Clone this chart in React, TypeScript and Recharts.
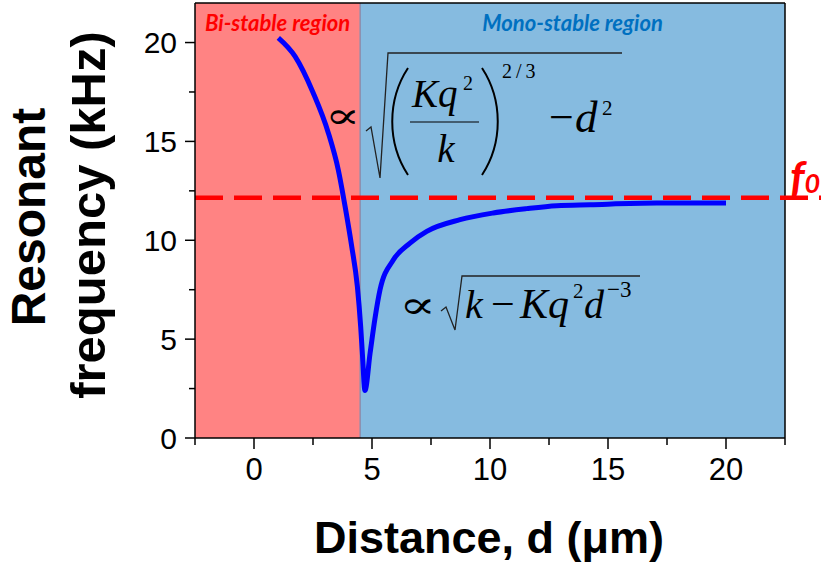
import React from 'react';
import { LineChart, Line, XAxis, YAxis, ReferenceArea, ReferenceLine } from 'recharts';

const distance = [1.03, 1.74, 2.51, 3.15, 3.57, 3.86, 4.14, 4.38, 4.52, 4.6, 4.7, 4.92, 5.12, 5.34, 5.9, 6.61, 7.32, 8.73, 10.14, 11.55, 12.83, 14.24, 17.06, 20.0];
const frequency = [20.24, 19.3, 17.45, 15.43, 13.57, 11.71, 9.69, 7.66, 5.64, 4.12, 2.4, 4.3, 6.0, 7.5, 9.0, 9.86, 10.45, 11.04, 11.38, 11.6, 11.75, 11.8, 11.88, 11.88];
const xTicks = [-2.5, 0, 2.5, 5, 7.5, 10, 12.5, 15, 17.5, 20, 22.5];
const yTicks = [0, 2.5, 5, 7.5, 10, 12.5, 15, 17.5, 20];
const xDomain: [number, number] = [-2.5, 22.5];
const yDomain: [number, number] = [0, 22];
const bistableEnd = 4.5;
const f0Value = 12.15;
const regionLabels = ['Bi-stable region', 'Mono-stable region'];

const data = distance.map((d, i) => ({ d, f: frequency[i] }));

const SANS = 'Liberation Sans, Arial, sans-serif';
const SERIF = 'Liberation Serif, DejaVu Serif, serif';

const XTick = (props: any) => {
  const { x, y, payload } = props;
  const v = payload.value;
  const major = v % 5 === 0;
  return (
    <g>
      <line x1={x} y1={y} x2={x} y2={y + (major ? 11 : 7)} stroke="#000" strokeWidth={1.5} />
      {major && (
        <text x={x} y={y + 42} textAnchor="middle" fontFamily={SANS} fontSize={31} fill="#000">{v}</text>
      )}
    </g>
  );
};

const YTick = (props: any) => {
  const { x, y, payload } = props;
  const v = payload.value;
  const major = v % 5 === 0;
  return (
    <g>
      <line x1={x} y1={y} x2={x - (major ? 10 : 6)} y2={y} stroke="#000" strokeWidth={1.5} />
      {major && (
        <text x={x - 18} y={y} dy="0.36em" textAnchor="end" fontFamily={SANS} fontSize={30} fill="#000">{v}</text>
      )}
    </g>
  );
};

const F0Line = (p: any) => (
  <g>
    <line x1={p.x1} y1={p.y1} x2={p.x2 + 40} y2={p.y2} stroke="#FF0000" strokeWidth={4.5} strokeDasharray="28 11" />
    <text x={p.x2 + 5} y={p.y1 - 5} fill="#FF0000" fontFamily="Lato, sans-serif" fontWeight={700} fontStyle="italic" fontSize={44}>
      f<tspan fontSize={27}>0</tspan>
    </text>
  </g>
);

export default function App() {
  return (
    <div style={{ position: 'absolute', left: 0, top: 0, width: 821, height: 567, background: '#fff' }}>
      <LineChart width={821} height={567} data={data} margin={{ top: 3, right: 36, bottom: 0, left: 0 }}>
        <XAxis
          type="number"
          dataKey="d"
          domain={xDomain}
          ticks={xTicks}
          interval={0}
          allowDataOverflow
          height={129}
          tickSize={0}
          tickMargin={0}
          tickLine={false}
          tick={<XTick />}
          axisLine={{ stroke: '#000', strokeWidth: 1.5 }}
        />
        <YAxis
          type="number"
          domain={yDomain}
          ticks={yTicks}
          interval={0}
          allowDataOverflow
          width={195}
          tickSize={0}
          tickMargin={0}
          tickLine={false}
          tick={<YTick />}
          axisLine={{ stroke: '#000', strokeWidth: 1.5 }}
        />
        <ReferenceArea
          x1={xDomain[0]} x2={bistableEnd} y1={yDomain[0]} y2={yDomain[1]}
          fill="#FF8383" fillOpacity={1} stroke="none"
          label={{ value: regionLabels[0], position: 'insideTop', offset: 12, fill: '#FF0000', fontFamily: 'Lato, sans-serif', fontWeight: 700, fontStyle: 'italic', fontSize: 22 }}
        />
        <ReferenceArea
          x1={bistableEnd} x2={xDomain[1]} y1={yDomain[0]} y2={yDomain[1]}
          fill="#86BBE0" fillOpacity={1} stroke="none"
          label={{ value: regionLabels[1], position: 'insideTop', offset: 12, fill: '#0070C0', fontFamily: 'Lato, sans-serif', fontWeight: 700, fontStyle: 'italic', fontSize: 22 }}
        />
        <ReferenceLine x={bistableEnd} stroke="#8C8FAE" strokeWidth={1.5} />
        <ReferenceLine x={xDomain[1]} stroke="#000" strokeWidth={1.5} />
        <ReferenceLine y={yDomain[1]} stroke="#000" strokeWidth={1.5} />
        <ReferenceLine y={f0Value} shape={F0Line} />
        <Line type="monotone" dataKey="f" stroke="#0000FF" strokeWidth={5} dot={false} isAnimationActive={false} />

        {/* axis titles */}
        <text transform="translate(45,217) rotate(-90)" textAnchor="middle" fontFamily={SANS} fontWeight="bold" fontSize={48} fill="#000">Resonant</text>
        <text transform="translate(105,215) rotate(-90)" textAnchor="middle" fontFamily={SANS} fontWeight="bold" fontSize={49} fill="#000">frequency (kHz)</text>
        <text x={489} y={553} textAnchor="middle" fontFamily={SANS} fontWeight="bold" fontSize={45} fill="#000">Distance, d (μm)</text>
      </LineChart>

      <svg width={821} height={567} style={{ position: 'absolute', left: 0, top: 0, pointerEvents: 'none' }}>
        {/* upper formula */}
        <g fill="#000">
          <text transform="translate(325,128) scale(1.45,1)" fontFamily={SERIF} fontSize={36}>∝</text>
          <path d="M366 131 L371 127 L380 178 L388 53 L622 53" fill="none" stroke="#222" strokeWidth={1.3} />
          <path d="M408 68 C 387 100 387 143 408 175" fill="none" stroke="#000" strokeWidth={2} />
          <path d="M482 68 C 503 100 503 143 482 175" fill="none" stroke="#000" strokeWidth={2} />
          <text x={412} y={107} fontFamily={SERIF} fontStyle="italic" fontSize={39}>Kq</text>
          <text x={463} y={90} fontFamily={SERIF} fontSize={20}>2</text>
          <line x1={410} x2={479} y1={122} y2={122} stroke="#000" strokeWidth={1.2} />
          <text x={446} y={162} textAnchor="middle" fontFamily={SERIF} fontStyle="italic" fontSize={39}>k</text>
          <text x={502} y={78} fontFamily={SERIF} fontSize={20} letterSpacing={4}>2/3</text>
          <text x={549} y={132} fontFamily={SERIF} fontSize={44}>−</text>
          <text x={575} y={132} fontFamily={SERIF} fontStyle="italic" fontSize={45}>d</text>
          <text x={602} y={115} fontFamily={SERIF} fontSize={21}>2</text>
        </g>

        {/* lower formula */}
        <g fill="#000">
          <text transform="translate(399,318) scale(1.45,1)" fontFamily={SERIF} fontSize={38}>∝</text>
          <path d="M441 311 L446 307 L455 330 L462 276 L640 276" fill="none" stroke="#222" strokeWidth={1.3} />
          <text x={465} y={318} fontFamily={SERIF} fontStyle="italic" fontSize={40}>k</text>
          <text x={491} y={318} fontFamily={SERIF} fontSize={42}>−</text>
          <text x={520} y={318} fontFamily={SERIF} fontStyle="italic" fontSize={42}>Kq</text>
          <text x={573} y={298} fontFamily={SERIF} fontSize={21}>2</text>
          <text x={584} y={318} fontFamily={SERIF} fontStyle="italic" fontSize={40}>d</text>
          <text x={607} y={297} fontFamily={SERIF} fontSize={23}>−3</text>
        </g>
      </svg>
    </div>
  );
}
